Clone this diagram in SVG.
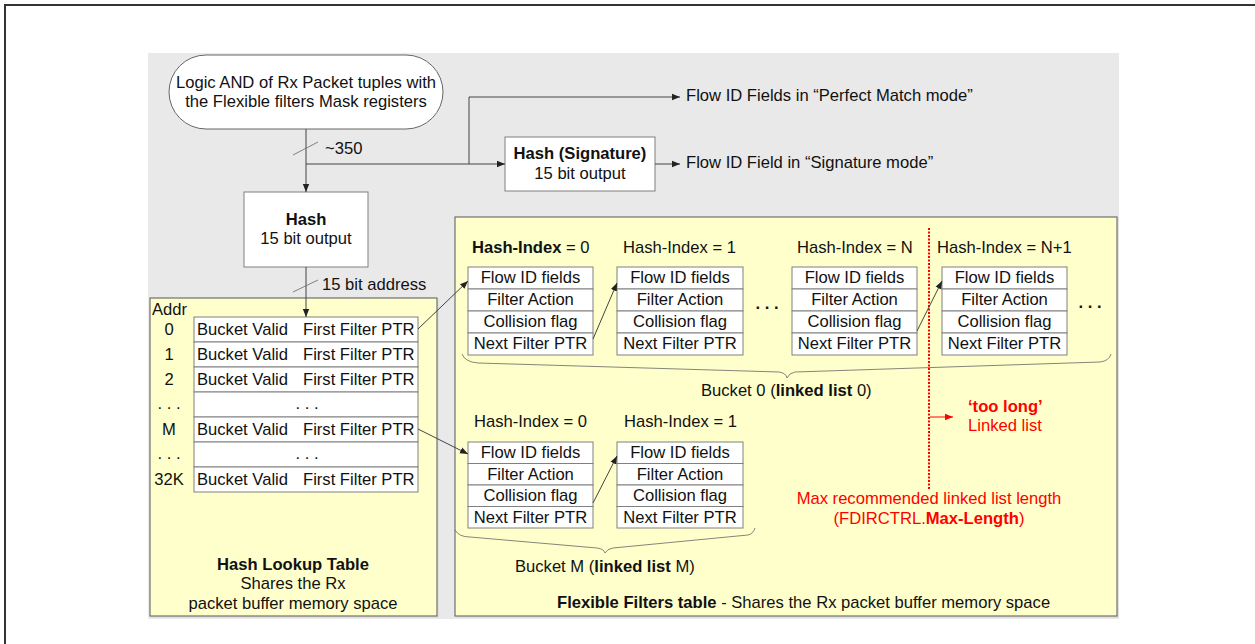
<svg xmlns="http://www.w3.org/2000/svg" width="1255" height="644" viewBox="0 0 1255 644">
<defs>
<marker id="ah" viewBox="0 0 10 10" refX="10" refY="5" markerWidth="8" markerHeight="8" markerUnits="userSpaceOnUse" orient="auto">
<path d="M0,1 L10,5 L0,9 z" fill="#222"/>
</marker>
<marker id="ahr" viewBox="0 0 10 10" refX="10" refY="5" markerWidth="8" markerHeight="8" markerUnits="userSpaceOnUse" orient="auto">
<path d="M0,1 L10,5 L0,9 z" fill="#f00"/>
</marker>
<style>
text{font-family:"Liberation Sans",Arial,sans-serif;font-size:16.6px;fill:#111}
.c{text-anchor:middle}
.b{font-weight:bold}
.r{fill:#f00}
.box{fill:#fff;stroke:#808080;stroke-width:1}
.yel{fill:#ffffcc;stroke:#707070;stroke-width:1.2}
.ln{fill:none;stroke:#444;stroke-width:1}
.th{fill:none;stroke:#666;stroke-width:0.8}
</style>
</defs>
<rect width="1255" height="644" fill="#fff"/>
<path d="M5,644 L5,5 L1255,5" fill="none" stroke="#333" stroke-width="2"/>
<rect x="148" y="53" width="971" height="566" fill="#e9e9e9"/>

<g id="hash-lookup-table">
<rect x="151" y="299" width="288" height="319" fill="#d8d8d8" opacity="0.5"/>
<rect x="150" y="298" width="287" height="318" class="yel"/>
<text x="152" y="315">Addr</text>
<g class="c">
<text x="169" y="335">0</text>
<text x="169" y="360">1</text>
<text x="169" y="385">2</text>
<text x="169" y="409">. . .</text>
<text x="169" y="435">M</text>
<text x="169" y="459">. . .</text>
<text x="169" y="485">32K</text>
</g>
<rect x="194" y="317" width="224" height="25" class="box"/>
<rect x="194" y="342" width="224" height="25" class="box"/>
<rect x="194" y="367" width="224" height="25" class="box"/>
<rect x="194" y="392" width="224" height="25" class="box"/>
<rect x="194" y="417" width="224" height="25" class="box"/>
<rect x="194" y="442" width="224" height="25" class="box"/>
<rect x="194" y="467" width="224" height="25" class="box"/>
<text x="197" y="335">Bucket Valid</text><text x="303" y="335">First Filter PTR</text>
<text x="197" y="360">Bucket Valid</text><text x="303" y="360">First Filter PTR</text>
<text x="197" y="385">Bucket Valid</text><text x="303" y="385">First Filter PTR</text>
<text x="307" y="409" class="c">. . .</text>
<text x="197" y="435">Bucket Valid</text><text x="303" y="435">First Filter PTR</text>
<text x="307" y="459" class="c">. . .</text>
<text x="197" y="485">Bucket Valid</text><text x="303" y="485">First Filter PTR</text>
<text x="293" y="570" class="c b">Hash Lookup Table</text>
<text x="293" y="589" class="c">Shares the Rx</text>
<text x="293" y="609" class="c">packet buffer memory space</text>
</g>

<g id="flexible-filters-table">
<rect x="456" y="218" width="663" height="400" fill="#d8d8d8" opacity="0.5"/>
<rect x="455" y="217" width="662" height="399" class="yel"/>
<text x="557" y="608"><tspan class="b">Flexible Filters table</tspan> - Shares the Rx packet buffer memory space</text>
</g>

<g id="logic-and">
<rect x="169" y="55" width="274" height="74" rx="37" ry="37" fill="#fff" stroke="#666" stroke-width="1"/>
<text x="306" y="88" class="c">Logic AND of Rx Packet tuples with</text>
<text x="306" y="107" class="c">the Flexible filters Mask registers</text>
</g>

<g id="hash">
<rect x="244" y="192" width="124" height="75" class="box"/>
<text x="306" y="225" class="c b">Hash</text>
<text x="306" y="244" class="c">15 bit output</text>
</g>

<g id="hash-signature">
<rect x="505" y="137" width="150" height="54" class="box"/>
<text x="580" y="159" class="c b">Hash (Signature)</text>
<text x="580" y="179" class="c">15 bit output</text>
</g>

<g id="labels">
<text x="686" y="101">Flow ID Fields in “Perfect Match mode”</text>
<text x="686" y="168">Flow ID Field in “Signature mode”</text>
<text x="325" y="154">~350</text>
<text x="322" y="290">15 bit address</text>
</g>

<g id="bucket0-idx0">
<text x="472" y="253"><tspan class="b">Hash-Index</tspan> = 0</text>
<rect x="468" y="267" width="125" height="22" class="box"/>
<rect x="468" y="289" width="125" height="22" class="box"/>
<rect x="468" y="311" width="125" height="22" class="box"/>
<rect x="468" y="333" width="125" height="22" class="box"/>
<text x="530.5" y="283" class="c">Flow ID fields</text>
<text x="530.5" y="305" class="c">Filter Action</text>
<text x="530.5" y="327" class="c">Collision flag</text>
<text x="530.5" y="349" class="c">Next Filter PTR</text>
</g>
<g id="bucket0-idx1">
<text x="623" y="253">Hash-Index = 1</text>
<rect x="617" y="267" width="126" height="22" class="box"/>
<rect x="617" y="289" width="126" height="22" class="box"/>
<rect x="617" y="311" width="126" height="22" class="box"/>
<rect x="617" y="333" width="126" height="22" class="box"/>
<text x="680" y="283" class="c">Flow ID fields</text>
<text x="680" y="305" class="c">Filter Action</text>
<text x="680" y="327" class="c">Collision flag</text>
<text x="680" y="349" class="c">Next Filter PTR</text>
</g>
<g id="bucket0-idxN">
<text x="797" y="253">Hash-Index = N</text>
<rect x="792" y="267" width="125" height="22" class="box"/>
<rect x="792" y="289" width="125" height="22" class="box"/>
<rect x="792" y="311" width="125" height="22" class="box"/>
<rect x="792" y="333" width="125" height="22" class="box"/>
<text x="854.5" y="283" class="c">Flow ID fields</text>
<text x="854.5" y="305" class="c">Filter Action</text>
<text x="854.5" y="327" class="c">Collision flag</text>
<text x="854.5" y="349" class="c">Next Filter PTR</text>
</g>
<g id="bucket0-idxN1">
<text x="937" y="253">Hash-Index = N+1</text>
<rect x="942" y="267" width="125" height="22" class="box"/>
<rect x="942" y="289" width="125" height="22" class="box"/>
<rect x="942" y="311" width="125" height="22" class="box"/>
<rect x="942" y="333" width="125" height="22" class="box"/>
<text x="1004.5" y="283" class="c">Flow ID fields</text>
<text x="1004.5" y="305" class="c">Filter Action</text>
<text x="1004.5" y="327" class="c">Collision flag</text>
<text x="1004.5" y="349" class="c">Next Filter PTR</text>
</g>
<g id="dots">
<text x="767" y="309" class="c b">. . .</text>
<text x="1090" y="308" class="c b">. . .</text>
</g>
<g id="bucket0-label">
<path d="M462,354 Q465,362 478,363 L779,372 Q786,373 787,378 Q789,373 795,372 L1100,362 Q1109,361 1111,354" class="th"/>
<text x="701" y="396">Bucket 0 (<tspan class="b">linked list</tspan> 0)</text>
</g>

<g id="bucketM-idx0">
<text x="474" y="427">Hash-Index = 0</text>
<rect x="468" y="442" width="125" height="21.5" class="box"/>
<rect x="468" y="463.5" width="125" height="21.5" class="box"/>
<rect x="468" y="485" width="125" height="21.5" class="box"/>
<rect x="468" y="506.5" width="125" height="21.5" class="box"/>
<text x="530.5" y="458" class="c">Flow ID fields</text>
<text x="530.5" y="479.5" class="c">Filter Action</text>
<text x="530.5" y="501" class="c">Collision flag</text>
<text x="530.5" y="522.5" class="c">Next Filter PTR</text>
</g>
<g id="bucketM-idx1">
<text x="624" y="427">Hash-Index = 1</text>
<rect x="617" y="442" width="126" height="21.5" class="box"/>
<rect x="617" y="463.5" width="126" height="21.5" class="box"/>
<rect x="617" y="485" width="126" height="21.5" class="box"/>
<rect x="617" y="506.5" width="126" height="21.5" class="box"/>
<text x="680" y="458" class="c">Flow ID fields</text>
<text x="680" y="479.5" class="c">Filter Action</text>
<text x="680" y="501" class="c">Collision flag</text>
<text x="680" y="522.5" class="c">Next Filter PTR</text>
</g>
<g id="bucketM-label">
<path d="M455,530 Q459,537 470,537 L597,548 Q604,549 605,553 Q607,549 613,548 L748,535 Q753,534 755,528" class="th"/>
<text x="515" y="572">Bucket M (<tspan class="b">linked list</tspan> M)</text>
</g>

<g id="max-length">
<line x1="929" y1="228" x2="929" y2="490" stroke="#f00" stroke-width="2" stroke-dasharray="2,1.5"/>
<line x1="930" y1="417" x2="953" y2="417" stroke="#f00" stroke-width="1" marker-end="url(#ahr)"/>
<text x="968" y="412" class="r b">‘too long’</text>
<text x="968" y="431" class="r">Linked list</text>
<text x="929" y="504" class="r c">Max recommended linked list length</text>
<text x="929" y="524" class="r c">(FDIRCTRL.<tspan class="b">Max-Length</tspan>)</text>
</g>

<g id="connectors">
<line x1="306" y1="129" x2="306" y2="192" class="ln" marker-end="url(#ah)"/>
<line x1="293" y1="155" x2="318" y2="142" class="th"/>
<line x1="306" y1="164" x2="505" y2="164" class="ln" marker-end="url(#ah)"/>
<polyline points="469,164 469,97 680,97" class="ln" marker-end="url(#ah)"/>
<line x1="655" y1="164" x2="680" y2="164" class="ln" marker-end="url(#ah)"/>
<line x1="306" y1="267" x2="306" y2="317" class="ln" marker-end="url(#ah)"/>
<line x1="293" y1="292" x2="318" y2="280" class="th"/>
<line x1="418" y1="329" x2="468" y2="281" class="ln" marker-end="url(#ah)"/>
<line x1="418" y1="429" x2="468" y2="454" class="ln" marker-end="url(#ah)"/>
<line x1="593" y1="339" x2="617" y2="283" class="ln" marker-end="url(#ah)"/>
<line x1="917" y1="331" x2="942" y2="281" class="ln" marker-end="url(#ah)"/>
<line x1="593" y1="503" x2="617" y2="456" class="ln" marker-end="url(#ah)"/>
</g>
</svg>
